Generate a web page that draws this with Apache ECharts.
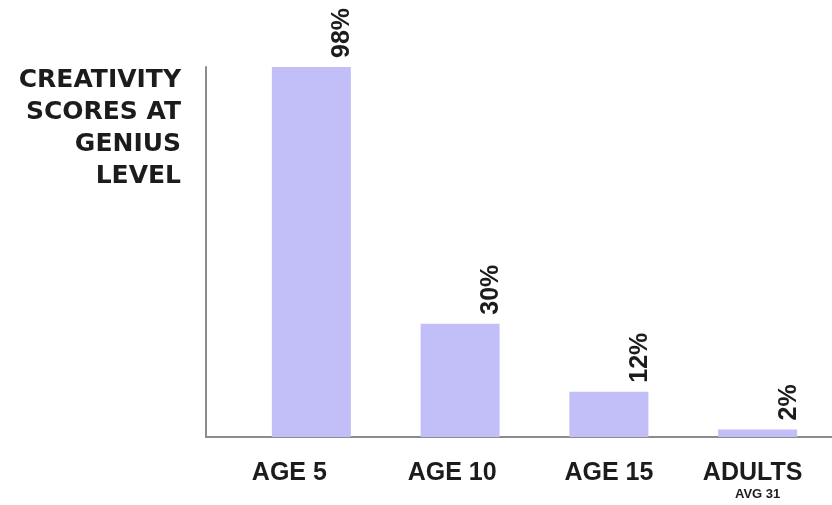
<!DOCTYPE html>
<html>
<head>
<meta charset="utf-8">
<script src="https://cdn.jsdelivr.net/npm/echarts@6/dist/echarts.min.js"></script>
<style>html,body{margin:0;padding:0;background:#fff;}#c{width:832px;height:505px;}</style>
</head>
<body>
<div id="c"></div>
<script>
const categories = ['AGE 5', 'AGE 10', 'AGE 15', 'ADULTS'];
const subLabels = ['', '', '', 'AVG 31'];
const values = [98, 30, 12, 2];
const titleLines = ['CREATIVITY', 'SCORES AT', 'GENIUS', 'LEVEL'];

// style-only: horizontal nudge (px) of each category label
const labelNudge = [-22, -8, 0, -5];

const chart = echarts.init(document.getElementById('c'), null, {renderer: 'canvas'});
const catRich = {};
labelNudge.forEach((n, i) => {
  catRich['c' + i] = {
    fontFamily: 'Liberation Sans', fontWeight: 'bold', fontSize: 25, color: '#1c1c1c',
    lineHeight: 24,
    padding: n < 0 ? [0, -2 * n, 0, 0] : [0, 0, 0, 2 * n]
  };
});
catRich.sub = {fontFamily: 'Liberation Sans', fontWeight: 'bold', fontSize: 13, color: '#1c1c1c', lineHeight: 18};

chart.setOption({
  animation: false,
  backgroundColor: '#ffffff',
  title: {
    text: titleLines.join('\n'),
    left: 181, top: 64, padding: 0,
    textAlign: 'right',
    textStyle: {
      fontFamily: 'DejaVu Sans', fontWeight: 'bold', fontSize: 25,
      lineHeight: 32, color: '#1c1c1c'
    }
  },
  grid: [
    {left: 237, width: 605, top: 67, bottom: 68},
    {left: 206, right: 0, top: 67, bottom: 68}
  ],
  xAxis: [
    {
      type: 'category', gridIndex: 0, data: categories,
      axisLine: {show: false}, axisTick: {show: false},
      axisLabel: {
        margin: 24, interval: 0,
        formatter: function (v, i) {
          let s = '{c' + i + '|' + v + '}';
          if (subLabels[i]) s += '\n{sub|' + subLabels[i] + '}';
          return s;
        },
        rich: catRich
      }
    },
    {
      type: 'value', gridIndex: 1, min: 0, max: 1,
      axisLine: {show: true, lineStyle: {color: '#8c8c8c', width: 2}},
      axisTick: {show: false}, axisLabel: {show: false}, splitLine: {show: false}
    }
  ],
  yAxis: [
    {
      type: 'value', gridIndex: 0, min: 0, max: 'dataMax',
      axisLine: {show: false}, axisTick: {show: false}, axisLabel: {show: false}, splitLine: {show: false}
    },
    {
      type: 'value', gridIndex: 1, min: 0, max: 1,
      axisLine: {show: true, lineStyle: {color: '#8c8c8c', width: 2}},
      axisTick: {show: false}, axisLabel: {show: false}, splitLine: {show: false}
    }
  ],
  series: [{
    type: 'bar', xAxisIndex: 0, yAxisIndex: 0,
    data: values, barWidth: 79,
    itemStyle: {color: '#c2bef8'},
    label: {
      show: true, position: 'top', distance: 9, rotate: 90,
      align: 'left', verticalAlign: 'middle', offset: [0, 31],
      formatter: '{c}%',
      fontFamily: 'Liberation Sans', fontWeight: 'bold', fontSize: 25, color: '#1c1c1c'
    }
  }]
});
</script>
</body>
</html>
